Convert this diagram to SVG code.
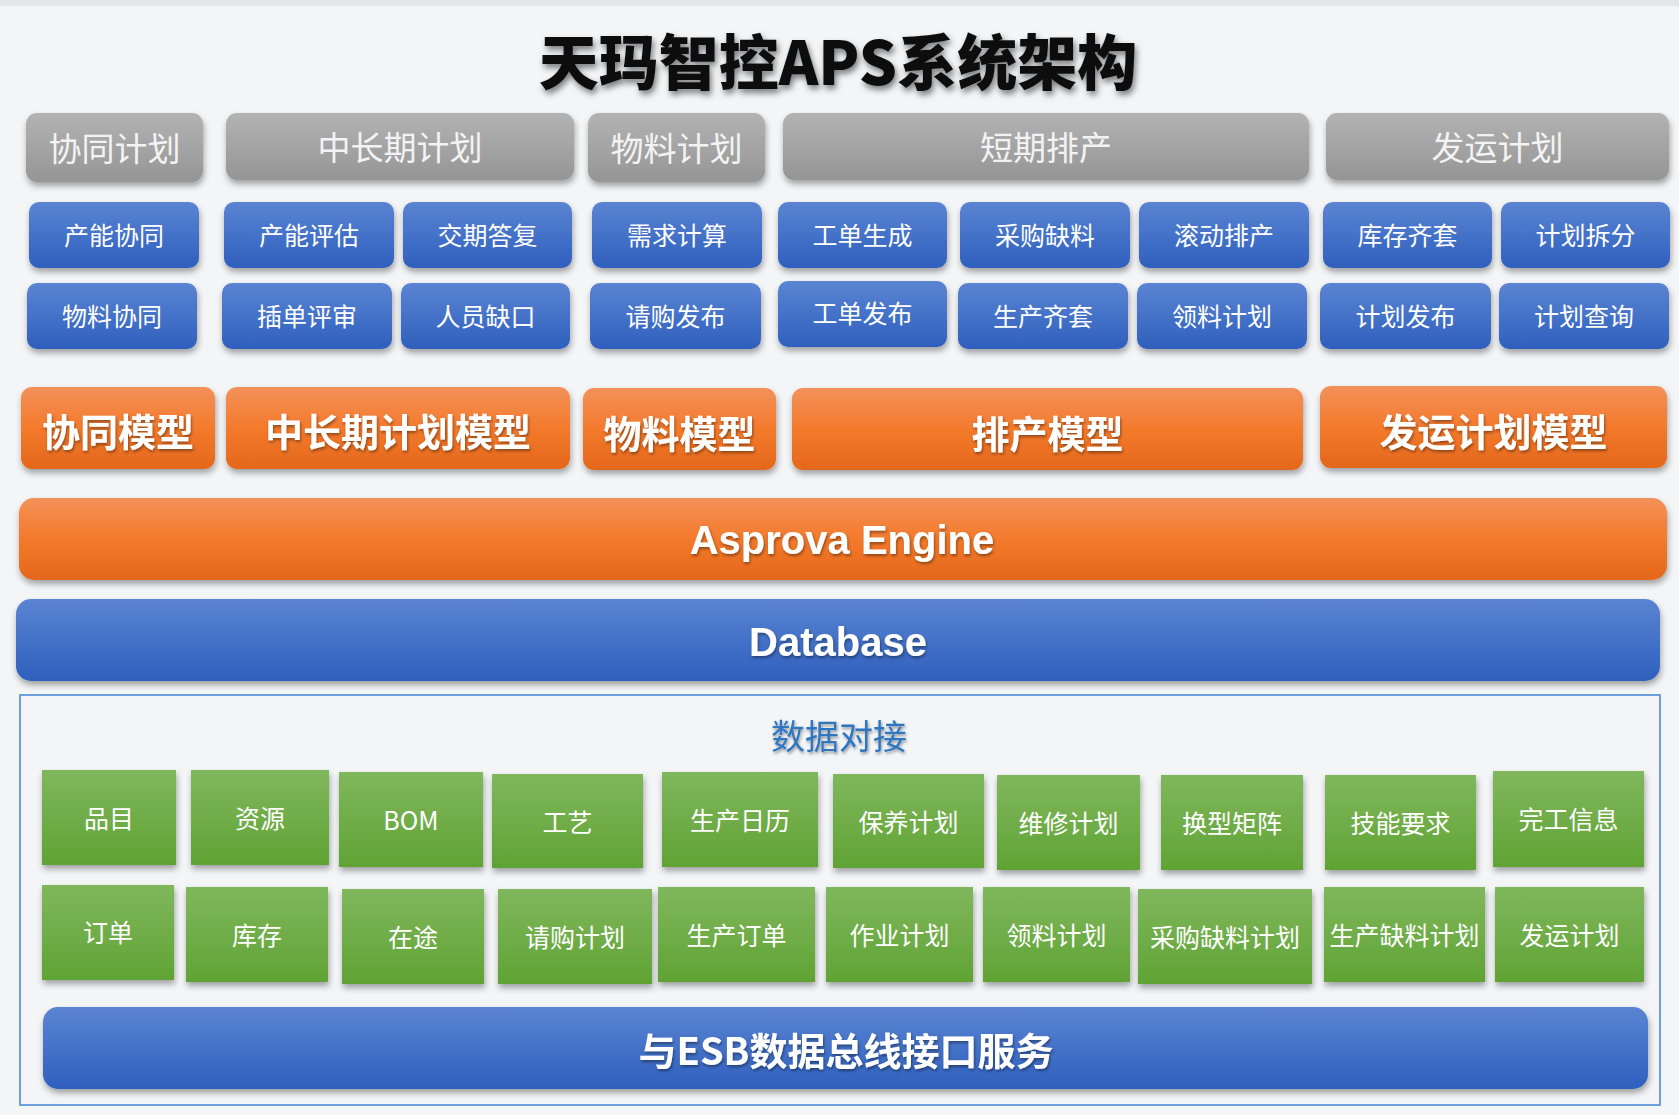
<svg xmlns="http://www.w3.org/2000/svg" width="1679" height="1115" viewBox="0 0 1679 1115">
<defs>
<linearGradient id="gGray" x1="0" y1="0" x2="0" y2="1"><stop offset="0" stop-color="#b3b3b3"/><stop offset="1" stop-color="#959595"/></linearGradient>
<linearGradient id="gBlue" x1="0" y1="0" x2="0" y2="1"><stop offset="0" stop-color="#5b84d2"/><stop offset="0.5" stop-color="#4472c8"/><stop offset="1" stop-color="#2f5fbd"/></linearGradient>
<linearGradient id="gOrange" x1="0" y1="0" x2="0" y2="1"><stop offset="0" stop-color="#f3915a"/><stop offset="0.5" stop-color="#f47a2c"/><stop offset="1" stop-color="#e4671a"/></linearGradient>
<linearGradient id="gGreen" x1="0" y1="0" x2="0" y2="1"><stop offset="0" stop-color="#80b75d"/><stop offset="1" stop-color="#60a334"/></linearGradient>
<filter id="sh" x="-10%" y="-20%" width="120%" height="150%"><feDropShadow dx="1" dy="4" stdDeviation="3" flood-color="#000" flood-opacity="0.35"/></filter>
<filter id="tsh" x="-10%" y="-30%" width="120%" height="160%"><feDropShadow dx="2" dy="4" stdDeviation="3" flood-color="#000" flood-opacity="0.5"/></filter>
<filter id="tsh2" x="-10%" y="-30%" width="120%" height="160%"><feDropShadow dx="1" dy="2" stdDeviation="1.5" flood-color="#000" flood-opacity="0.4"/></filter>
</defs>
<style>
text{font-family:"Noto Sans CJK SC","Liberation Sans",sans-serif;text-anchor:middle;dominant-baseline:central}
.gray rect{fill:url(#gGray);filter:url(#sh)}
.gray text{fill:#f3f3f3;font-size:33px}
.blue rect{fill:url(#gBlue);filter:url(#sh)}
.blue text{fill:#fff;font-size:25px}
.orange rect{fill:url(#gOrange);filter:url(#sh)}
.orange text{fill:#fff;font-size:38px;font-weight:bold;filter:url(#tsh2)}
.green rect{fill:url(#gGreen);filter:url(#sh)}
.green text{fill:#fff;font-size:25px}
g.bar text{fill:#fff;font-weight:bold;filter:url(#tsh2)}
g.bar text.en{font-family:"Liberation Sans","Open Sans",sans-serif;font-size:40px;dominant-baseline:auto}
g.bar text.cn{font-size:38px}
</style>
<rect x="0" y="0" width="1679" height="1115" fill="#f4f5f7"/>
<rect x="0" y="0" width="1679" height="6" fill="#e4e5e8"/>
<g id="title"><text x="838" y="58" font-size="60" font-weight="900" fill="#111" filter="url(#tsh)">天玛智控APS系统架构</text></g>

<g id="g-xietongjihua" class="gray"><rect x="26" y="113" width="177" height="69" rx="11"/><text x="114.5" y="147">协同计划</text></g>
<g id="g-zhongchangqijihua" class="gray"><rect x="226" y="113" width="348" height="67" rx="11"/><text x="400" y="146">中长期计划</text></g>
<g id="g-wuliaojihua" class="gray"><rect x="588" y="113" width="177" height="69" rx="11"/><text x="676.5" y="147">物料计划</text></g>
<g id="g-duanqipaichan" class="gray"><rect x="783" y="113" width="526" height="67" rx="11"/><text x="1046" y="146">短期排产</text></g>
<g id="g-fayunjihua" class="gray"><rect x="1326" y="113" width="343" height="67" rx="11"/><text x="1497.5" y="146">发运计划</text></g>

<g id="b-chanengxietong" class="blue"><rect x="29" y="202" width="170" height="66" rx="10"/><text x="114" y="234">产能协同</text></g>
<g id="b-channengpinggu" class="blue"><rect x="224" y="202" width="170" height="66" rx="10"/><text x="309" y="234">产能评估</text></g>
<g id="b-jiaoqidafu" class="blue"><rect x="403" y="202" width="169" height="66" rx="10"/><text x="487.5" y="234">交期答复</text></g>
<g id="b-xuqiujisuan" class="blue"><rect x="592" y="202" width="170" height="66" rx="10"/><text x="677" y="234">需求计算</text></g>
<g id="b-gongdanshengcheng" class="blue"><rect x="778" y="202" width="169" height="66" rx="10"/><text x="862.5" y="234">工单生成</text></g>
<g id="b-caigouqueliao" class="blue"><rect x="960" y="202" width="170" height="66" rx="10"/><text x="1045" y="234">采购缺料</text></g>
<g id="b-gundongpaichan" class="blue"><rect x="1139" y="202" width="170" height="66" rx="10"/><text x="1224" y="234">滚动排产</text></g>
<g id="b-kucunqitao" class="blue"><rect x="1323" y="202" width="169" height="66" rx="10"/><text x="1407.5" y="234">库存齐套</text></g>
<g id="b-jihuachaifen" class="blue"><rect x="1501" y="202" width="169" height="66" rx="10"/><text x="1585.5" y="234">计划拆分</text></g>

<g id="b-wuliaoxietong" class="blue"><rect x="27" y="283" width="170" height="66" rx="10"/><text x="112" y="315">物料协同</text></g>
<g id="b-chadanpingshen" class="blue"><rect x="222" y="283" width="170" height="66" rx="10"/><text x="307" y="315">插单评审</text></g>
<g id="b-renyuanquekou" class="blue"><rect x="401" y="283" width="169" height="66" rx="10"/><text x="485.5" y="315">人员缺口</text></g>
<g id="b-qinggoufabu" class="blue"><rect x="590" y="283" width="171" height="66" rx="10"/><text x="675.5" y="315">请购发布</text></g>
<g id="b-gongdanfabu" class="blue"><rect x="778" y="281" width="169" height="66" rx="10"/><text x="862.5" y="312">工单发布</text></g>
<g id="b-shengchanqitao" class="blue"><rect x="958" y="283" width="170" height="66" rx="10"/><text x="1043" y="315">生产齐套</text></g>
<g id="b-lingliaojihua" class="blue"><rect x="1137" y="283" width="170" height="66" rx="10"/><text x="1222" y="315">领料计划</text></g>
<g id="b-jihuafabu" class="blue"><rect x="1320" y="283" width="171" height="66" rx="10"/><text x="1405.5" y="315">计划发布</text></g>
<g id="b-jihuachaxun" class="blue"><rect x="1499" y="283" width="170" height="66" rx="10"/><text x="1584" y="315">计划查询</text></g>

<g id="o-xietongmoxing" class="orange"><rect x="21" y="387" width="194" height="82" rx="11"/><text x="118" y="429">协同模型</text></g>
<g id="o-zhongchangqi" class="orange"><rect x="226" y="387" width="344" height="82" rx="11"/><text x="398" y="429">中长期计划模型</text></g>
<g id="o-wuliaomoxing" class="orange"><rect x="583" y="388" width="193" height="82" rx="11"/><text x="679.5" y="431">物料模型</text></g>
<g id="o-paichanmoxing" class="orange"><rect x="792" y="388" width="511" height="82" rx="11"/><text x="1047.5" y="431">排产模型</text></g>
<g id="o-fayunmoxing" class="orange"><rect x="1320" y="386" width="347" height="82" rx="11"/><text x="1493.5" y="429">发运计划模型</text></g>

<g id="asprova-engine" class="orange bar"><rect x="19" y="498" width="1648" height="82" rx="15"/><text class="en" x="842" y="554">Asprova Engine</text></g>
<g id="database" class="blue bar"><rect x="16" y="599" width="1644" height="82" rx="15"/><text class="en" x="838" y="656">Database</text></g>

<g id="data-interface">
<rect x="20" y="695" width="1640" height="410" fill="none" stroke="#6e9fd8" stroke-width="2"/>
<text x="839" y="734" font-size="34" fill="#2f76c0" filter="url(#tsh2)">数据对接</text>
</g>

<g id="d-pinmu" class="green"><rect x="42" y="770" width="134" height="95"/><text x="109" y="817">品目</text></g>
<g id="d-ziyuan" class="green"><rect x="191" y="770" width="138" height="95"/><text x="260" y="817">资源</text></g>
<g id="d-bom" class="green"><rect x="339" y="772" width="144" height="95"/><text x="411" y="819">BOM</text></g>
<g id="d-gongyi" class="green"><rect x="492" y="774" width="151" height="94"/><text x="567.5" y="821">工艺</text></g>
<g id="d-shengchanrili" class="green"><rect x="662" y="772" width="156" height="95"/><text x="740" y="819">生产日历</text></g>
<g id="d-baoyangjihua" class="green"><rect x="833" y="774" width="151" height="94"/><text x="908.5" y="821">保养计划</text></g>
<g id="d-weixiujihua" class="green"><rect x="997" y="775" width="143" height="95"/><text x="1068.5" y="822">维修计划</text></g>
<g id="d-huanxingjuzhen" class="green"><rect x="1161" y="775" width="142" height="95"/><text x="1232" y="822">换型矩阵</text></g>
<g id="d-jinengyaoqiu" class="green"><rect x="1325" y="775" width="151" height="95"/><text x="1400.5" y="822">技能要求</text></g>
<g id="d-wangongxinxi" class="green"><rect x="1493" y="771" width="151" height="96"/><text x="1568.5" y="818">完工信息</text></g>

<g id="d-dingdan" class="green"><rect x="42" y="885" width="132" height="95"/><text x="108" y="931">订单</text></g>
<g id="d-kucun" class="green"><rect x="186" y="887" width="142" height="95"/><text x="257" y="934">库存</text></g>
<g id="d-zaitu" class="green"><rect x="342" y="889" width="142" height="95"/><text x="413" y="936">在途</text></g>
<g id="d-qinggoujihua" class="green"><rect x="498" y="889" width="154" height="95"/><text x="575" y="936">请购计划</text></g>
<g id="d-shengchandingdan" class="green"><rect x="658" y="887" width="157" height="95"/><text x="736.5" y="934">生产订单</text></g>
<g id="d-zuoyejihua" class="green"><rect x="826" y="887" width="147" height="95"/><text x="899.5" y="934">作业计划</text></g>
<g id="d-lingliaojihua" class="green"><rect x="983" y="887" width="147" height="95"/><text x="1056.5" y="934">领料计划</text></g>
<g id="d-caigouqueliaojihua" class="green"><rect x="1138" y="889" width="174" height="95"/><text x="1225" y="936">采购缺料计划</text></g>
<g id="d-shengchanqueliaojihua" class="green"><rect x="1324" y="887" width="161" height="95"/><text x="1404.5" y="934">生产缺料计划</text></g>
<g id="d-fayunjihua" class="green"><rect x="1495" y="887" width="149" height="95"/><text x="1569.5" y="934">发运计划</text></g>

<g id="esb" class="blue bar"><rect x="43" y="1007" width="1605" height="82" rx="15"/><text class="cn" x="846" y="1048">与ESB数据总线接口服务</text></g>

<g id="connectors"/>
</svg>
